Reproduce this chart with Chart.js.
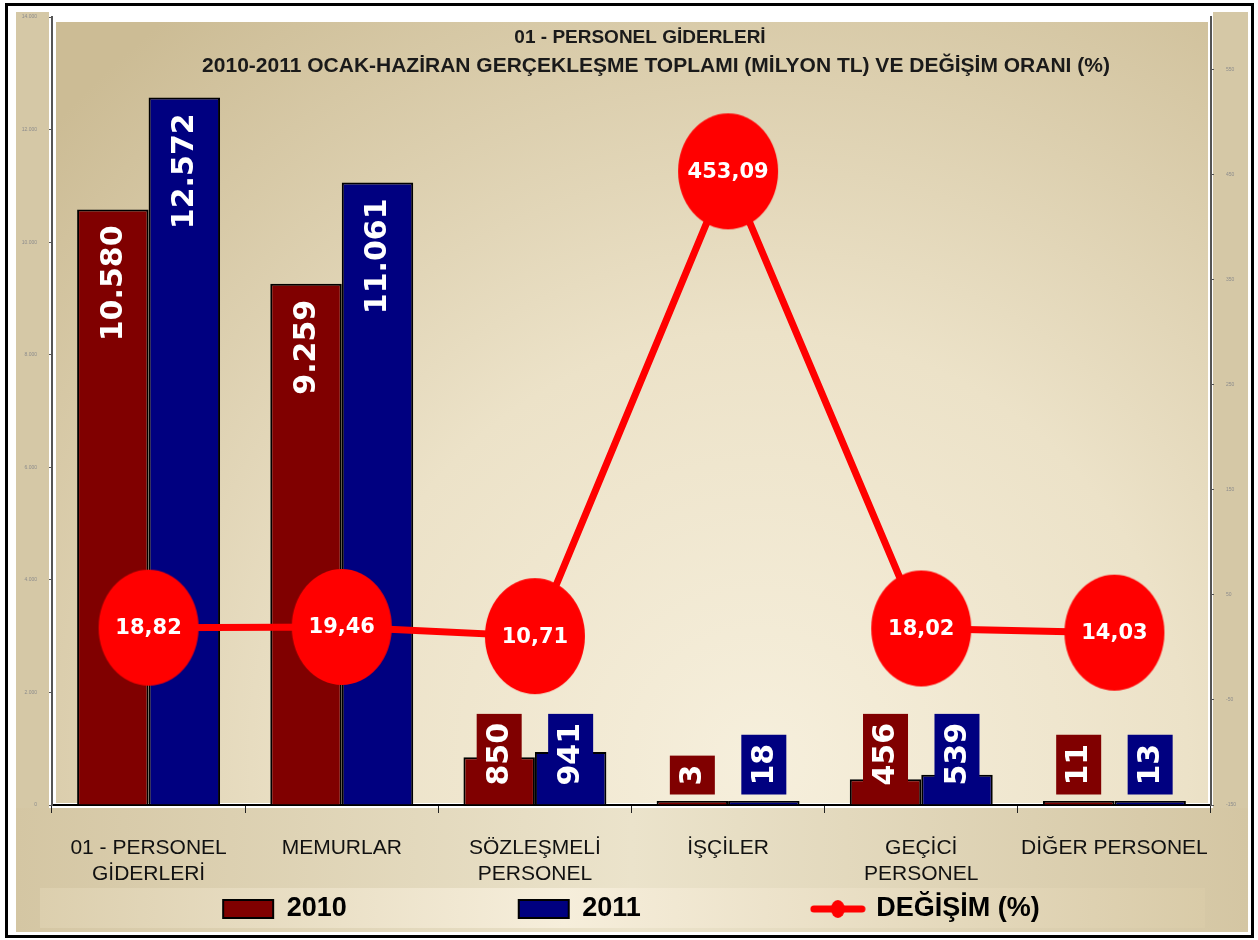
<!DOCTYPE html>
<html lang="tr">
<head>
<meta charset="utf-8">
<title>01 - Personel Giderleri</title>
<script src="https://cdn.jsdelivr.net/npm/chart.js@4.4.1/dist/chart.umd.min.js"></script>
<style>
  html, body { margin: 0; padding: 0; background: #fff; }
  canvas { display: block; }
</style>
</head>
<body>
<canvas id="js-chart" width="1258" height="940"></canvas>
<script>
/* DATA */

const categories = [
  ['01 - PERSONEL', 'GİDERLERİ'],
  'MEMURLAR',
  ['SÖZLEŞMELİ', 'PERSONEL'],
  'İŞÇİLER',
  ['GEÇİCİ', 'PERSONEL'],
  'DİĞER PERSONEL',
];
const seriesNames = ['2010', '2011', 'DEĞİŞİM (%)'];
const values2010 = [10580, 9259, 850, 3, 456, 11];
const values2011 = [12572, 11061, 941, 18, 539, 13];
const changeRates = [18.82, 19.46, 10.71, 453.09, 18.02, 14.03];
const amountTicks = [0, 2000, 4000, 6000, 8000, 10000, 12000, 14000];
const rateTicks = [-150, -50, 50, 150, 250, 350, 450, 550];
const titleLines = [
  '01 - PERSONEL GİDERLERİ',
  '2010-2011 OCAK-HAZİRAN GERÇEKLEŞME TOPLAMI (MİLYON TL) VE DEĞİŞİM ORANI (%)',
];

const formatAmount = (v) => String(v).replace(/\B(?=(\d{3})+(?!\d))/g, '.');
const formatRate = (v) => v.toFixed(2).replace('.', ',');

/* MARKERS */

// red oval used as the point of the change line
const ovalMarker = document.createElement('canvas');
ovalMarker.width = 102;
ovalMarker.height = 118;
const ovalCtx = ovalMarker.getContext('2d');
ovalCtx.fillStyle = '#ff0000';
ovalCtx.beginPath();
ovalCtx.ellipse(51, 59, 50, 58, 0, 0, Math.PI * 2);
ovalCtx.fill();

// line + marker for the legend
const lineIcon = document.createElement('canvas');
lineIcon.width = 56;
lineIcon.height = 20;
const iconCtx = lineIcon.getContext('2d');
iconCtx.strokeStyle = '#ff0000';
iconCtx.fillStyle = '#ff0000';
iconCtx.lineWidth = 7;
iconCtx.lineCap = 'round';
iconCtx.beginPath();
iconCtx.moveTo(4, 10);
iconCtx.lineTo(52, 10);
iconCtx.stroke();
iconCtx.beginPath();
iconCtx.ellipse(28, 10, 7, 9, 0, 0, Math.PI * 2);
iconCtx.fill();

/* PLUGINS */

// beige panels and outer frame
const chartBackground = {
  id: 'chartBackground',
  beforeDraw(chart) {
    const { ctx, chartArea: area } = chart;
    ctx.save();
    ctx.fillStyle = '#ffffff';
    ctx.fillRect(0, 0, chart.width, chart.height);

    ctx.fillStyle = '#d5c8a6';
    ctx.fillRect(16, 12, area.left - 19, 920);
    ctx.fillRect(area.right + 2, 12, 1248 - area.right - 2, 920);

    const bottomGrad = ctx.createLinearGradient(16, 0, 1248, 0);
    bottomGrad.addColorStop(0, '#d4c6a3');
    bottomGrad.addColorStop(0.5, '#ebe3cb');
    bottomGrad.addColorStop(1, '#d4c6a3');
    ctx.fillStyle = bottomGrad;
    ctx.fillRect(16, area.bottom + 3, 1232, 932 - area.bottom - 3);

    const bandGrad = ctx.createLinearGradient(40, 0, 1205, 0);
    bandGrad.addColorStop(0, '#dccfae');
    bandGrad.addColorStop(0.45, '#f6eedb');
    bandGrad.addColorStop(1, '#d9cba8');
    ctx.fillStyle = bandGrad;
    ctx.fillRect(40, 888, 1165, 40);

    const plotGrad = ctx.createRadialGradient(760, 760, 0, 760, 760, 950);
    plotGrad.addColorStop(0, '#f6efdc');
    plotGrad.addColorStop(0.45, '#ece2c8');
    plotGrad.addColorStop(1, '#ccbc95');
    ctx.fillStyle = plotGrad;
    ctx.fillRect(area.left + 4, area.top + 5, area.right - area.left - 7, area.bottom - area.top - 7);

    ctx.strokeStyle = '#000000';
    ctx.lineWidth = 3;
    ctx.strokeRect(6.5, 4.5, 1246, 932);
    ctx.restore();
  },
};

// legend sits in the band under the axis labels
const legendPosition = {
  id: 'legendPosition',
  beforeInit(chart) {
    const originalFit = chart.legend.fit;
    chart.legend.fit = function fit() {
      originalFit.bind(chart.legend)();
      this.height = 50;
    };
  },
  beforeDraw(chart) {
    const { legend } = chart;
    const half = legend.options.labels.font.size / 2;
    legend.top = 909 - half - legend.options.labels.padding;
  },
};

// rotated value labels on the bars and values inside the ovals
const valueLabels = {
  id: 'valueLabels',
  afterDatasetsDraw(chart) {
    const { ctx } = chart;
    ctx.save();
    chart.data.datasets.forEach((dataset, di) => {
      const meta = chart.getDatasetMeta(di);
      if (dataset.type === 'line') {
        ctx.font = "bold 21px 'DejaVu Sans', sans-serif";
        ctx.fillStyle = '#ffffff';
        ctx.textAlign = 'center';
        ctx.textBaseline = 'middle';
        meta.data.forEach((pt, i) => {
          ctx.fillText(formatRate(dataset.data[i]), pt.x, pt.y + 1);
        });
        return;
      }
      ctx.font = "bold 30px 'DejaVu Sans', sans-serif";
      meta.data.forEach((bar, i) => {
        const text = formatAmount(dataset.data[i]);
        const textLen = ctx.measureText(text).width;
        const boxW = 45;
        const boxH = textLen + 18;
        const barH = bar.base - bar.y;
        const boxTop = barH > boxH + 30 ? bar.y + 7 : bar.base - 10 - boxH;
        ctx.fillStyle = dataset.backgroundColor;
        ctx.fillRect(bar.x - boxW / 2, boxTop, boxW, boxH);
        ctx.save();
        ctx.translate(bar.x + 1, boxTop + boxH / 2);
        ctx.rotate(-Math.PI / 2);
        ctx.fillStyle = '#ffffff';
        ctx.textAlign = 'center';
        ctx.textBaseline = 'middle';
        ctx.fillText(text, 0, 0);
        ctx.restore();
      });
    });
    ctx.restore();
  },
};

// two line title inside the plot
const chartTitle = {
  id: 'chartTitle',
  afterDraw(chart) {
    const { ctx } = chart;
    ctx.save();
    ctx.fillStyle = '#1a1a1a';
    ctx.textAlign = 'center';
    ctx.textBaseline = 'middle';
    ctx.font = "bold 19px 'Liberation Sans', Arial, sans-serif";
    ctx.fillText(titleLines[0], 640, 38);
    ctx.font = "bold 21px 'Liberation Sans', Arial, sans-serif";
    ctx.fillText(titleLines[1], 656, 66);
    ctx.restore();
  },
};

/* CONFIG */

const barCommon = {
  type: 'bar',
  borderColor: '#000000',
  borderWidth: 2,
  categoryPercentage: 0.74,
  barPercentage: 1,
  minBarLength: 4,
  yAxisID: 'y',
  order: 1,
};

const config = {
  type: 'bar',
  data: {
    labels: categories,
    datasets: [
      { ...barCommon, label: seriesNames[0], data: values2010, backgroundColor: '#800000' },
      { ...barCommon, label: seriesNames[1], data: values2011, backgroundColor: '#000080' },
      {
        type: 'line',
        label: seriesNames[2],
        data: changeRates,
        borderColor: '#ff0000',
        backgroundColor: '#ff0000',
        borderWidth: 7,
        pointStyle: ovalMarker,
        pointRadius: 10,
        yAxisID: 'y1',
        order: 0,
      },
    ],
  },
  options: {
    responsive: false,
    animation: false,
    layout: { padding: { top: 15, left: 8, right: 3, bottom: 0 } },
    plugins: {
      tooltip: { enabled: false },
      legend: {
        position: 'bottom',
        labels: {
          font: { family: "'Liberation Sans', Arial, sans-serif", size: 27, weight: 'bold' },
          color: '#000000',
          usePointStyle: true,
          pointStyleWidth: 50,
          boxHeight: 18,
          padding: 172,
          sort: (a, b) => a.datasetIndex - b.datasetIndex,
          generateLabels(chart) {
            const items = Chart.defaults.plugins.legend.labels.generateLabels(chart);
            return items.map((item) => {
              const dataset = chart.data.datasets[item.datasetIndex];
              if (dataset.type === 'line') {
                return { ...item, pointStyle: lineIcon };
              }
              return { ...item, pointStyle: 'rect', lineWidth: 2, strokeStyle: '#000000' };
            });
          },
        },
      },
    },
    scales: {
      x: {
        offset: true,
        grid: { offset: true, drawOnChartArea: false, tickLength: 8, color: '#222222' },
        border: { color: '#000000', width: 2 },
        ticks: {
          font: { family: "'Liberation Sans', Arial, sans-serif", size: 21, lineHeight: 1.25 },
          color: '#111111',
          padding: 22,
          maxRotation: 0,
          autoSkip: false,
        },
        afterFit(scale) { scale.height = 85; },
      },
      y: {
        position: 'left',
        min: 0,
        max: 14000,
        grid: { drawOnChartArea: false, tickLength: 3, color: '#555555' },
        border: { color: '#555555', width: 2 },
        ticks: {
          font: { size: 5 },
          color: '#8c8c8c',
          padding: 12,
          callback: (v) => formatAmount(v),
        },
        afterBuildTicks(scale) { scale.ticks = amountTicks.map((v) => ({ value: v })); },
        afterFit(scale) { scale.width = 44; },
      },
      y1: {
        position: 'right',
        min: -150,
        max: 600,
        grid: { drawOnChartArea: false, tickLength: 3, color: '#555555' },
        border: { color: '#555555', width: 2 },
        ticks: {
          font: { size: 5 },
          color: '#8c8c8c',
          padding: 12,
          callback: (v) => String(v),
        },
        afterBuildTicks(scale) { scale.ticks = rateTicks.map((v) => ({ value: v })); },
        afterFit(scale) { scale.width = 44; },
      },
    },
  },
  plugins: [chartBackground, legendPosition, valueLabels, chartTitle],
};

/* CHART */

const myChart = new Chart(document.getElementById('js-chart').getContext('2d'), config);
</script>
</body>
</html>
